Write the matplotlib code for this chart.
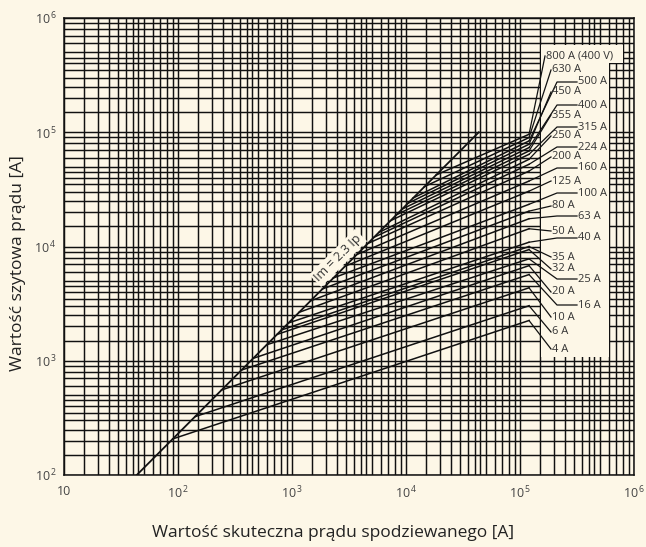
import matplotlib

matplotlib.use("Agg")
import matplotlib.pyplot as plt
from matplotlib.patches import Rectangle
from matplotlib.ticker import FixedFormatter, FixedLocator, LogLocator, NullFormatter

# fuse ratings and their cut-off characteristics
ratings = ["800 A (400 V)", "630 A", "500 A", "450 A", "400 A", "355 A", "315 A",
           "250 A", "224 A", "200 A", "160 A", "125 A", "100 A", "80 A", "63 A",
           "50 A", "40 A", "35 A", "32 A", "25 A", "20 A", "16 A", "10 A", "6 A", "4 A"]
# point where each curve leaves the Im = 2.3 Ip line
start_ip = [18400, 14500, 11500, 10400, 9200, 8200, 7300, 5800, 5200, 4600, 3700,
            2900, 2300, 1850, 1450, 1150, 930, 810, 740, 600, 457, 362, 241, 141, 90]
start_im = [42300, 33400, 26500, 23900, 21200, 18900, 16800, 13300, 12000, 10600,
            8500, 6700, 5300, 4250, 3340, 2650, 2140, 1860, 1700, 1380, 1050, 830,
            555, 324, 207]
# right-hand end of each curve
end_ip = 1.2e5
end_im = [95900, 89800, 84000, 78500, 73400, 68600, 64100, 58000, 52400, 45700,
          37400, 30500, 23400, 20400, 17500, 14300, 10900, 10000, 9400, 7800, 6800,
          5680, 4350, 3030, 2250]

im_line_ip = [43.5, 43500]
im_line_im = [100, 100000]

x_ticks = [10, 1e2, 1e3, 1e4, 1e5, 1e6]
x_tick_labels = ["10", r"10$^{\,2}$", r"10$^{\,3}$", r"10$^{\,4}$", r"10$^{\,5}$",
                 r"10$^{\,6}$"]
y_ticks = [1e2, 1e3, 1e4, 1e5, 1e6]
y_tick_labels = [r"10$^{\,2}$", r"10$^{\,3}$", r"10$^{\,4}$", r"10$^{\,5}$",
                 r"10$^{\,6}$"]

# layout of the label column (pixel rows of the 646x547 image)
label_rows = [56, 70, 82, 92, 105, 115, 127, 136, 147, 157, 168, 181, 193, 206, 216,
              231, 238, 257, 269, 279, 292, 305, 317, 332, 349]
label_right = ["500 A", "400 A", "315 A", "224 A", "160 A", "100 A", "63 A", "40 A",
               "25 A", "16 A"]

BG = "#fdf7e7"
INK = "#111111"
TXT = "#333333"

plt.rcParams["font.family"] = ["Open Sans", "DejaVu Sans"]
plt.rcParams["mathtext.fontset"] = "custom"
plt.rcParams["mathtext.rm"] = "Open Sans"

W, H = 646, 547
fig = plt.figure(figsize=(W / 100, H / 100), dpi=100, facecolor=BG)
ax = fig.add_axes([64 / W, 1 - 475 / H, 570 / W, 457 / H], facecolor=BG)
ax.set_xscale("log")
ax.set_yscale("log")
ax.set_xlim(10, 1e6)
ax.set_ylim(1e2, 1e6)

minor_subs = [1.5, 2, 2.5, 3, 3.5, 4, 4.5, 5, 6, 7, 8, 9]
for axis in (ax.xaxis, ax.yaxis):
    axis.set_minor_locator(LogLocator(base=10, subs=minor_subs, numticks=50))
    axis.set_minor_formatter(NullFormatter())
ax.xaxis.set_major_locator(FixedLocator(x_ticks))
ax.xaxis.set_major_formatter(FixedFormatter(x_tick_labels))
ax.yaxis.set_major_locator(FixedLocator(y_ticks))
ax.yaxis.set_major_formatter(FixedFormatter(y_tick_labels))
ax.tick_params(which="both", length=0, labelsize=9, labelcolor="#444444")
ax.tick_params(axis="x", pad=7)
ax.tick_params(axis="y", pad=5)
ax.grid(which="both", color=INK, linewidth=1.05)
ax.set_axisbelow(True)
for spine in ax.spines.values():
    spine.set_color(INK)
    spine.set_linewidth(1.1)


def frac_to_data(px, py):
    return 10 ** (1 + 5 * (px - 64) / 570), 10 ** (2 + 4 * (475 - py) / 457)


def frac_box(x0, y0, x1, y1):
    return Rectangle(((x0 - 64) / 570, (475 - y1) / 457), (x1 - x0) / 570,
                     (y1 - y0) / 457, transform=ax.transAxes, facecolor=BG,
                     edgecolor="none", zorder=1)


ax.add_patch(frac_box(541, 45, 609, 357))
ax.add_patch(frac_box(541, 45, 623, 63))

ax.plot(im_line_ip, im_line_im, color=INK, linewidth=1.3, zorder=3)
ax.text(*frac_to_data(338, 258), "Im = 2.3 Ip", rotation=45, ha="center",
        va="center", fontsize=9, color=TXT, zorder=4,
        bbox=dict(facecolor=BG, edgecolor="none", pad=1.5))

for i, name in enumerate(ratings):
    ax.plot([start_ip[i], end_ip], [start_im[i], end_im[i]], color=INK,
            linewidth=1.1, zorder=3)
    row = label_rows[i]
    if name in label_right:
        knee = frac_to_data(557, row)
        tip = frac_to_data(577, row)
        xs = [end_ip, knee[0], tip[0]]
        ys = [end_im[i], knee[1], tip[1]]
        tx = 578
    else:
        tx = 546 if i == 0 else 552
        tip = frac_to_data(tx - 1, row)
        xs = [end_ip, tip[0]]
        ys = [end_im[i], tip[1]]
    ax.plot(xs, ys, color=INK, linewidth=0.9, zorder=3)
    ax.text(*frac_to_data(tx, row), name, ha="left", va="center", fontsize=8,
            color=TXT, zorder=4)

fig.text(333 / W, 1 - 533 / H, "Wartość skuteczna prądu spodziewanego [A]",
         ha="center", va="center", fontsize=12.5, color="#222222")
fig.text(18 / W, 1 - 263 / H, "Wartość szytowa prądu [A]", rotation=90,
         ha="center", va="center", fontsize=12.5, color="#222222")

fig.savefig("out.png", dpi=100, facecolor=BG)
